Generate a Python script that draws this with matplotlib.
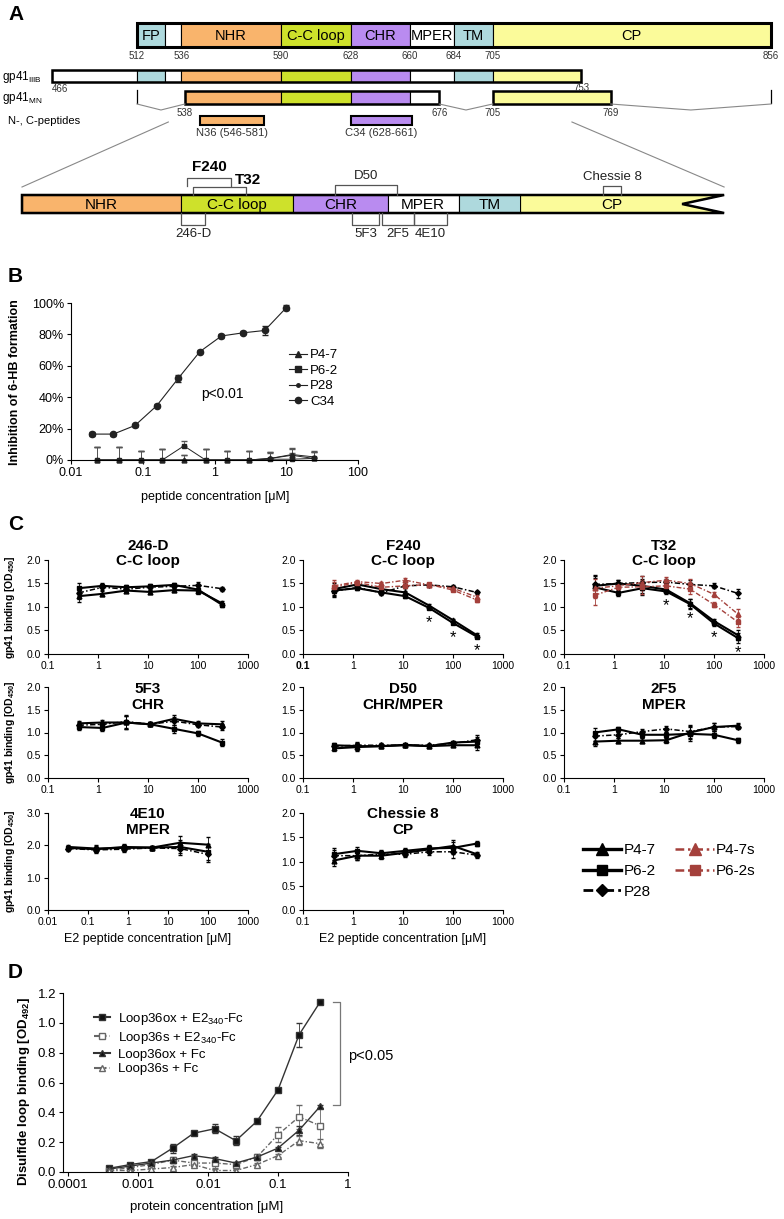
import matplotlib
matplotlib.use("Agg")
import matplotlib.pyplot as plt
import matplotlib.ticker as ticker
from matplotlib import font_manager
from matplotlib.patches import Rectangle, Polygon
from matplotlib.lines import Line2D
from matplotlib.transforms import blended_transform_factory
import numpy as np

# ── Panel A: gp41 domain map (residue numbers) ───────────────────────────────
DOMAIN_NAMES  = ["FP", "", "NHR", "C-C loop", "CHR", "MPER", "TM", "CP"]
DOMAIN_START  = [512, 527, 536, 590, 628, 660, 684, 705]
DOMAIN_END    = [527, 536, 590, 628, 660, 684, 705, 856]
DOMAIN_COLORS = ["#aed9dd", "white", "#f9b46c", "#cee12b", "#b98bf0",
                 "white", "#aed9dd", "#fbfb9a"]
BOUNDARY_TICKS = [512, 536, 590, 628, 660, 684, 705, 856]
IIIB_RANGE = (466, 753)
MN_RANGES  = [(538, 676), (705, 769)]
PEPTIDE_NAMES  = ["N36 (546-581)", "C34 (628-661)"]
PEPTIDE_RANGES = [(546, 581), (628, 661)]
ZOOM_RANGE  = (536, 774)
ZOOM_SOURCE = (529, 748)

EPI_ABOVE        = ["F240", "T32", "D50", "Chessie 8"]
EPI_ABOVE_RANGES = [(592, 607), (594, 612), (642, 663), (733, 739)]
EPI_BELOW        = ["246-D", "5F3", "2F5", "4E10"]
EPI_BELOW_RANGES = [(590, 598), (648, 657), (658, 669), (669, 680)]

# ── Panel B: 6-HB inhibition ────────────────────────────────────────────────
B_CONC_C34 = [0.0195, 0.039, 0.078, 0.156, 0.3125, 0.625, 1.25, 2.5, 5, 10]
B_C34      = [16.5, 16.5, 22, 34.5, 52, 69, 79, 81, 82.5, 97]
B_C34_ERR  = [1.5, 1, 1, 1, 2, 1, 1, 1, 3, 1.5]
B_CONC_PEP = [0.0234, 0.047, 0.094, 0.1875, 0.375, 0.75, 1.5, 3, 6, 12, 24]
B_P47      = [0, 0, 0, 0, 0, 0, 0, 0, 1, 3, 1]
B_P62      = [0, 0, 0, 0, 9, 0, 0, 0, 0.5, 0.5, 1]
B_P28      = [0, 0, 0, 0, 0, 0, 0, 0, 1, 3.5, 2]
B_PEP_ERR  = [8, 8, 6, 7, 3, 7, 6, 6, 4, 4, 4]

# ── Panel C: gp41 binding by mAbs ────────────────────────────────────────────
CONC_C      = [0.41, 1.23, 3.7, 11.1, 33.3, 100, 300]
CONC_C_4E10 = [0.032, 0.16, 0.8, 4, 20, 100]

C_246D = {"P4-7": [1.23, 1.28, 1.35, 1.32, 1.36, 1.35, 1.08],
          "P6-2": [1.40, 1.45, 1.42, 1.44, 1.47, 1.37, 1.05],
          "P28":  [1.30, 1.42, 1.38, 1.42, 1.44, 1.46, 1.39]}
C_246D_ERR = [0.12, 0.05, 0.04, 0.05, 0.04, 0.08, 0.04]

C_F240 = {"P4-7":  [1.38, 1.48, 1.38, 1.31, 1.03, 0.72, 0.40],
          "P6-2":  [1.35, 1.40, 1.31, 1.23, 0.98, 0.66, 0.37],
          "P28":   [1.33, 1.42, 1.30, 1.45, 1.47, 1.43, 1.31],
          "P4-7s": [1.45, 1.54, 1.50, 1.57, 1.47, 1.40, 1.21],
          "P6-2s": [1.42, 1.52, 1.42, 1.45, 1.48, 1.36, 1.15]}
C_F240_ERR = [0.12, 0.03, 0.04, 0.04, 0.03, 0.03, 0.04]
F240_STARS = [4, 5, 6]

C_T32 = {"P4-7":  [1.45, 1.50, 1.45, 1.37, 1.08, 0.70, 0.40],
         "P6-2":  [1.42, 1.30, 1.40, 1.33, 1.06, 0.65, 0.34],
         "P28":   [1.48, 1.50, 1.52, 1.53, 1.48, 1.45, 1.29],
         "P4-7s": [1.40, 1.45, 1.52, 1.57, 1.50, 1.27, 0.85],
         "P6-2s": [1.25, 1.42, 1.43, 1.45, 1.38, 1.05, 0.68]}
C_T32_ERR = [0.2, 0.07, 0.15, 0.06, 0.1, 0.05, 0.1]
T32_STARS = [3, 4, 5, 6]

C_5F3 = {"P4-7": [1.20, 1.22, 1.22, 1.18, 1.30, 1.20, 1.18],
         "P6-2": [1.12, 1.10, 1.22, 1.18, 1.08, 0.98, 0.78],
         "P28":  [1.16, 1.18, 1.24, 1.18, 1.25, 1.17, 1.12]}
C_5F3_ERR = [0.06, 0.06, 0.15, 0.04, 0.08, 0.05, 0.07]

C_D50 = {"P4-7": [0.65, 0.68, 0.70, 0.72, 0.70, 0.72, 0.72],
         "P6-2": [0.72, 0.70, 0.70, 0.73, 0.70, 0.78, 0.80],
         "P28":  [0.70, 0.72, 0.72, 0.72, 0.72, 0.76, 0.84]}
C_D50_ERR = [0.05, 0.08, 0.04, 0.03, 0.03, 0.04, 0.1]

C_2F5 = {"P4-7": [0.80, 0.82, 0.82, 0.83, 1.00, 1.12, 1.15],
         "P6-2": [1.00, 1.07, 0.95, 0.95, 0.97, 0.95, 0.83],
         "P28":  [0.92, 0.95, 1.02, 1.08, 1.02, 1.12, 1.13]}
C_2F5_ERR = [0.1, 0.06, 0.06, 0.06, 0.15, 0.08, 0.05]

C_4E10 = {"P4-7": [1.95, 1.90, 1.92, 1.93, 2.08, 2.02],
          "P6-2": [1.92, 1.88, 1.95, 1.93, 1.95, 1.80],
          "P28":  [1.90, 1.86, 1.88, 1.92, 1.90, 1.72]}
C_4E10_ERR = [0.06, 0.1, 0.1, 0.06, 0.2, 0.25]

C_CH8 = {"P4-7": [1.02, 1.12, 1.12, 1.18, 1.25, 1.32, 1.15],
         "P6-2": [1.15, 1.22, 1.17, 1.22, 1.27, 1.28, 1.37],
         "P28":  [1.12, 1.12, 1.15, 1.15, 1.20, 1.20, 1.13]}
C_CH8_ERR = [0.12, 0.08, 0.06, 0.06, 0.06, 0.12, 0.05]

C_TITLES = ["246-D\nC-C loop", "F240\nC-C loop", "T32\nC-C loop",
            "5F3\nCHR", "D50\nCHR/MPER", "2F5\nMPER",
            "4E10\nMPER", "Chessie 8\nCP"]

# ── Panel D: disulfide loop binding ─────────────────────────────────────────
D_CONC = [0.00039, 0.00078, 0.00156, 0.003125, 0.00625, 0.0125,
          0.025, 0.05, 0.1, 0.2, 0.4]
D_OX_E2     = [0.025, 0.05, 0.07, 0.16, 0.26, 0.29, 0.21, 0.34, 0.55, 0.92, 1.14]
D_OX_E2_ERR = [0.01, 0.01, 0.01, 0.03, 0.01, 0.03, 0.03, 0.01, 0.01, 0.08, 0.01]
D_S_E2      = [0.01, 0.03, 0.05, 0.08, 0.06, 0.06, 0.05, 0.10, 0.25, 0.37, 0.31]
D_S_E2_ERR  = [0.01, 0.01, 0.01, 0.02, 0.01, 0.03, 0.02, 0.02, 0.05, 0.08, 0.12]
D_OX_FC     = [0.02, 0.04, 0.06, 0.08, 0.11, 0.09, 0.06, 0.10, 0.16, 0.28, 0.44]
D_OX_FC_ERR = [0.01, 0.01, 0.01, 0.01, 0.01, 0.01, 0.01, 0.01, 0.01, 0.03, 0.01]
D_S_FC      = [0.01, 0.01, 0.02, 0.03, 0.05, 0.01, 0.01, 0.05, 0.11, 0.21, 0.19]
D_S_FC_ERR  = [0.01, 0.01, 0.01, 0.01, 0.01, 0.01, 0.01, 0.01, 0.01, 0.03, 0.03]
D_LABELS = ["Loop36ox + E2$_{\\mathregular{340}}$-Fc",
            "Loop36s + E2$_{\\mathregular{340}}$-Fc",
            "Loop36ox + Fc", "Loop36s + Fc"]

# ── Figure setup ────────────────────────────────────────────────────────────
W, H = 784, 1219
plt.rcParams.update({
    "font.family": "Liberation Sans",
    "mathtext.fontset": "custom",
    "mathtext.rm": "Liberation Sans",
    "mathtext.bf": "Liberation Sans:bold",
    "mathtext.default": "regular",
    "axes.linewidth": 0.8,
})

# condensed face for the small labels, if the narrow Liberation cut is installed
try:
    font_manager.findfont("Liberation Sans Narrow", fallback_to_default=False)
    NARROW = "Liberation Sans Narrow"
except ValueError:
    NARROW = "Liberation Sans"

fig = plt.figure(figsize=(W / 100, H / 100), dpi=100)


def px_axes(l, t, r, b):
    return fig.add_axes([l / W, 1 - b / H, (r - l) / W, (b - t) / H])


def fpos(x, y):
    return (x / W, 1 - y / H)


def ftext(x, y, s, **kw):
    fig.text(x / W, 1 - y / H, s, **kw)


def style_axis(ax, fs, family="Liberation Sans"):
    for side in ("top", "right"):
        ax.spines[side].set_visible(False)
    ax.tick_params(which="major", direction="out", length=3, width=0.8,
                   labelsize=fs, pad=2, labelfontfamily=family)


def log_x(ax, lo, hi, ticks):
    ax.set_xscale("log")
    ax.set_xlim(lo, hi)
    ax.set_xticks(ticks)
    ax.xaxis.set_minor_locator(ticker.NullLocator())
    ax.xaxis.set_major_formatter(ticker.FuncFormatter(lambda v, p: f"{v:g}"))


def unclip(container):
    for art in container.get_children():
        art.set_clip_on(False)


# ── A ───────────────────────────────────────────────────────────────────────
axA = px_axes(0, 0, W, 265)
axA.set_xlim(0, W)
axA.set_ylim(265, 0)
axA.axis("off")


def top_x(r):
    return 137 + (r - 512) * (771 - 137) / (856 - 512)


def zoom_x(r):
    return 22 + (r - ZOOM_RANGE[0]) * 2.95


def draw_construct(lo, hi, y0, y1, lw=1.8):
    if lo < DOMAIN_START[0]:
        axA.add_patch(Rectangle((top_x(lo), y0), top_x(DOMAIN_START[0]) - top_x(lo),
                                y1 - y0, fc="white", ec="black", lw=0.8))
    for s, e, c in zip(DOMAIN_START, DOMAIN_END, DOMAIN_COLORS):
        a, b = max(s, lo), min(e, hi)
        if a < b:
            axA.add_patch(Rectangle((top_x(a), y0), top_x(b) - top_x(a), y1 - y0,
                                    fc=c, ec="black", lw=0.8))
    axA.add_patch(Rectangle((top_x(lo), y0), top_x(hi) - top_x(lo), y1 - y0,
                            fc="none", ec="black", lw=lw))


# full-length gp41
draw_construct(DOMAIN_START[0], DOMAIN_END[-1], 23, 47, lw=2.2)
for name, s, e in zip(DOMAIN_NAMES, DOMAIN_START, DOMAIN_END):
    if name:
        axA.text((top_x(s) + top_x(e)) / 2, 36, name, ha="center", va="center",
                 fontsize=10.5, family=NARROW)
for r in BOUNDARY_TICKS:
    axA.text(top_x(r), 56, str(r), ha="center", va="center", fontsize=7,
             color="#333333", family=NARROW)

# gp41 IIIB
draw_construct(IIIB_RANGE[0], IIIB_RANGE[1], 70, 82)
axA.text(2, 77, "gp41$_{\\mathregular{IIIB}}$", ha="left", va="center", fontsize=8.5,
         family=NARROW)
axA.text(top_x(IIIB_RANGE[0]) + 8, 89, str(IIIB_RANGE[0]), ha="center", va="center",
         fontsize=7, color="#333333", family=NARROW)
axA.text(top_x(IIIB_RANGE[1]), 88, str(IIIB_RANGE[1]), ha="center", va="center",
         fontsize=7, color="#333333", family=NARROW)

# gp41 MN
axA.text(2, 98, "gp41$_{\\mathregular{MN}}$", ha="left", va="center", fontsize=8.5,
         family=NARROW)
for lo, hi in MN_RANGES:
    draw_construct(lo, hi, 91, 104)
    for r in (lo, hi):
        axA.text(top_x(r), 113, str(r), ha="center", va="center", fontsize=7,
                 color="#333333", family=NARROW)
for r in (DOMAIN_START[0], DOMAIN_END[-1]):
    axA.plot([top_x(r), top_x(r)], [90, 103], color="black", lw=0.9)
gaps = [(DOMAIN_START[0], MN_RANGES[0][0]), (MN_RANGES[0][1], MN_RANGES[1][0]),
        (MN_RANGES[1][1], DOMAIN_END[-1])]
for a, b in gaps:
    axA.plot([top_x(a), (top_x(a) + top_x(b)) / 2, top_x(b)], [104, 110, 104],
             color="#888888", lw=0.8)

# N-, C-peptides
axA.text(8, 121, "N-, C-peptides", ha="left", va="center", fontsize=8, family=NARROW)
for name, (lo, hi) in zip(PEPTIDE_NAMES, PEPTIDE_RANGES):
    col = [c for s, e, c in zip(DOMAIN_START, DOMAIN_END, DOMAIN_COLORS) if s <= lo < e][0]
    axA.add_patch(Rectangle((top_x(lo), 116), top_x(hi) - top_x(lo), 9,
                            fc=col, ec="black", lw=1.5))
    axA.text((top_x(lo) + top_x(hi)) / 2, 133, name, ha="center", va="center",
             fontsize=8, color="#333333", family=NARROW)

# zoom lines
axA.plot([top_x(ZOOM_SOURCE[0]), zoom_x(ZOOM_RANGE[0])], [122, 187],
         color="#888888", lw=0.8)
axA.plot([top_x(ZOOM_SOURCE[1]), zoom_x(ZOOM_RANGE[1])], [122, 187],
         color="#888888", lw=0.8)

# enlarged bar
zy0, zy1 = 195, 213
zym = (zy0 + zy1) / 2
NOTCH = 42
for name, s, e, c in zip(DOMAIN_NAMES, DOMAIN_START, DOMAIN_END, DOMAIN_COLORS):
    a, b = max(s, ZOOM_RANGE[0]), min(e, ZOOM_RANGE[1])
    if a >= b:
        continue
    xa, xb = zoom_x(a), zoom_x(b)
    if e > ZOOM_RANGE[1]:
        axA.add_patch(Polygon([(xa, zy0), (xb, zy0), (xb - NOTCH, zym), (xb, zy1),
                               (xa, zy1)], closed=True, fc=c, ec="black", lw=0.8))
        cx = (xa + xb - NOTCH / 2) / 2
    else:
        axA.add_patch(Rectangle((xa, zy0), xb - xa, zy1 - zy0, fc=c, ec="black", lw=0.8))
        cx = (xa + xb) / 2
    axA.text(cx, zym + 1, name, ha="center", va="center", fontsize=11, family=NARROW)
xl, xr = zoom_x(ZOOM_RANGE[0]), zoom_x(ZOOM_RANGE[1])
axA.add_patch(Polygon([(xl, zy0), (xr, zy0), (xr - NOTCH, zym), (xr, zy1), (xl, zy1)],
                      closed=True, fc="none", ec="black", lw=1.8))

# epitope brackets
above_level = [178, 187, 185, 186]
above_base  = [186, 195, 195, 195]
for i, (name, (a, b)) in enumerate(zip(EPI_ABOVE, EPI_ABOVE_RANGES)):
    x0, x1 = zoom_x(a), zoom_x(b)
    axA.plot([x0, x0, x1, x1], [above_base[i], above_level[i], above_level[i],
                                above_base[i]], color="#555555", lw=0.9)
    if name == "F240":
        axA.text((x0 + x1) / 2, 167, name, ha="center", va="center",
                 fontsize=11, fontweight="bold", family=NARROW)
    elif name == "T32":
        axA.text(x1 + 2, 180, name, ha="center", va="center",
                 fontsize=11, fontweight="bold", family=NARROW)
    else:
        axA.text((x0 + x1) / 2, above_level[i] - 9, name, ha="center",
                 va="center", fontsize=9.5, color="#222222", family=NARROW)
for name, (a, b) in zip(EPI_BELOW, EPI_BELOW_RANGES):
    x0, x1 = zoom_x(a), zoom_x(b)
    axA.plot([x0, x0, x1, x1], [zy1, 225, 225, zy1], color="#555555", lw=0.9)
    axA.text((x0 + x1) / 2, 234, name, ha="center", va="center", fontsize=9.5,
             color="#222222", family=NARROW)

# ── B ───────────────────────────────────────────────────────────────────────
axB = px_axes(71, 303, 358, 460)
style_axis(axB, 9)
log_x(axB, 0.01, 100, [0.01, 0.1, 1, 10, 100])
axB.set_ylim(0, 100)
axB.set_yticks([0, 20, 40, 60, 80, 100])
axB.yaxis.set_major_formatter(ticker.PercentFormatter(decimals=0))

b_styles = [("P4-7", B_P47, "^", 3.5), ("P6-2", B_P62, "s", 3.5), ("P28", B_P28, "o", 2)]
b_handles = []
for name, vals, m, ms in b_styles:
    cont = axB.errorbar(B_CONC_PEP, vals, yerr=[np.zeros(len(vals)), B_PEP_ERR],
                        color="#222222", lw=0.7, marker=m, ms=ms, ecolor="#555555",
                        elinewidth=0.6, capsize=2)
    unclip(cont)
    b_handles.append(Line2D([], [], color="#222222", lw=0.8, marker=m, ms=ms + 0.5))
cont = axB.errorbar(B_CONC_C34, B_C34, yerr=B_C34_ERR, color="#222222", lw=0.8,
                    marker="o", ms=4.5, elinewidth=0.6, capsize=2)
unclip(cont)
b_handles.append(Line2D([], [], color="#222222", lw=0.8, marker="o", ms=4.5))
axB.text(0.66, 42, "p<0.01", ha="left", va="center", fontsize=10)
fig.legend(b_handles, ["P4-7", "P6-2", "P28", "C34"], loc="upper left",
           bbox_to_anchor=fpos(289, 349), frameon=False, fontsize=9.5,
           handlelength=1.4, handletextpad=0.2, labelspacing=0.25,
           borderpad=0, borderaxespad=0)
ftext(15, 382, "Inhibition of 6-HB formation", rotation=90, ha="center",
      va="center", fontsize=9, fontweight="bold")
ftext(215, 497, "peptide concentration [μM]", ha="center", va="center", fontsize=9)

# ── C ───────────────────────────────────────────────────────────────────────
C_LEFT  = [48, 303, 564]
C_ROWS  = [(560, 654), (687, 778), (813, 910)]
C_TITLE_Y = [1.07, 0.89, 0.91]
BROWN = "#a4403b"
DASHDOT = (0, (3.5, 1.5, 1, 1.5))
C_STYLE = {
    "P4-7":  dict(color="black", ls="-", lw=1.5, marker="^", ms=3.5),
    "P6-2":  dict(color="black", ls="-", lw=1.5, marker="s", ms=3.2),
    "P28":   dict(color="black", ls=DASHDOT, lw=1.1, marker="D", ms=2.8),
    "P4-7s": dict(color=BROWN, ls=DASHDOT, lw=1.0, marker="^", ms=3.5),
    "P6-2s": dict(color=BROWN, ls=DASHDOT, lw=1.0, marker="s", ms=3.2),
}
c_panels = [(C_246D, C_246D_ERR, CONC_C, None), (C_F240, C_F240_ERR, CONC_C, F240_STARS),
            (C_T32, C_T32_ERR, CONC_C, T32_STARS), (C_5F3, C_5F3_ERR, CONC_C, None),
            (C_D50, C_D50_ERR, CONC_C, None), (C_2F5, C_2F5_ERR, CONC_C, None),
            (C_4E10, C_4E10_ERR, CONC_C_4E10, None), (C_CH8, C_CH8_ERR, CONC_C, None)]

for i, (series, err, conc, stars) in enumerate(c_panels):
    row, col = divmod(i, 3)
    top, bot = C_ROWS[row]
    ax = px_axes(C_LEFT[col], top, C_LEFT[col] + 200, bot)
    style_axis(ax, 7.5, NARROW)
    wide = conc is CONC_C_4E10
    if wide:
        log_x(ax, 0.01, 1000, [0.01, 0.1, 1, 10, 100, 1000])
    else:
        log_x(ax, 0.1, 1000, [0.1, 1, 10, 100, 1000])
    ymax = 3.0 if wide else 2.0
    ax.set_ylim(0, ymax)
    ax.set_yticks(np.arange(0, ymax + 0.01, 1.0 if wide else 0.5))
    ax.yaxis.set_major_formatter(ticker.FormatStrFormatter("%.1f"))
    for name, vals in series.items():
        st = C_STYLE[name]
        ax.errorbar(conc, vals, yerr=err, color=st["color"], ls=st["ls"], lw=st["lw"],
                    marker=st["marker"], ms=st["ms"], ecolor=st["color"],
                    elinewidth=0.6, capsize=1.5)
    if stars:
        low = np.minimum(series["P4-7"], series["P6-2"])
        for k in stars:
            ax.annotate("*", (conc[k], low[k]), xytext=(0, -5), textcoords="offset points",
                        ha="center", va="top", fontsize=12)
    ax.text(0.5, C_TITLE_Y[row], C_TITLES[i], transform=ax.transAxes, ha="center",
            va="center", fontsize=11, fontweight="bold", linespacing=1.15,
            family=NARROW)
    if i == 1:
        fig.canvas.draw()
        ax.get_xticklabels()[0].set_fontweight("bold")

for top, bot in C_ROWS:
    ftext(10, (top + bot) / 2, "gp41 binding [OD$_{\\mathbf{450}}$]", rotation=90,
          ha="center", va="center", fontsize=7.5, fontweight="bold")
for col in range(2):
    ftext(C_LEFT[col] + 100, 939, "E2 peptide concentration [μM]", ha="center",
          va="center", fontsize=9)

c_handles = [Line2D([], [], color="black", lw=2.4, marker="^", ms=8),
             Line2D([], [], color="black", lw=2.4, marker="s", ms=7.5),
             Line2D([], [], color="black", lw=2.0, ls=DASHDOT, marker="D", ms=6),
             Line2D([], [], color=BROWN, lw=1.8, ls=DASHDOT, marker="^", ms=8),
             Line2D([], [], color=BROWN, lw=1.8, ls=DASHDOT, marker="s", ms=7.5)]
fig.legend(c_handles, ["P4-7", "P6-2", "P28", "P4-7s", "P6-2s"], ncol=2,
           loc="upper left", bbox_to_anchor=fpos(583, 843), frameon=False,
           prop={"family": NARROW, "size": 11}, handlelength=2.5,
           handletextpad=0.15, columnspacing=1.3, labelspacing=0.45,
           borderpad=0, borderaxespad=0)

# ── D ───────────────────────────────────────────────────────────────────────
axD = px_axes(63, 993, 348, 1172)
style_axis(axD, 9.5)
log_x(axD, 8.5e-5, 1, [1e-4, 1e-3, 1e-2, 1e-1, 1])
axD.set_ylim(0, 1.2)
axD.set_yticks(np.arange(0, 1.21, 0.2))
axD.yaxis.set_major_formatter(ticker.FormatStrFormatter("%.1f"))

d_series = [(D_OX_E2, D_OX_E2_ERR, "s", "-", "#333333", "#111111"),
            (D_S_E2, D_S_E2_ERR, "s", DASHDOT, "#666666", "white"),
            (D_OX_FC, D_OX_FC_ERR, "^", "-", "#333333", "#111111"),
            (D_S_FC, D_S_FC_ERR, "^", DASHDOT, "#666666", "white")]
d_handles = []
for vals, err, m, ls, c, fc in d_series:
    axD.errorbar(D_CONC, vals, yerr=err, color=c, ls=ls, lw=1.0, marker=m, ms=4,
                 mfc=fc, mec=c, ecolor=c, elinewidth=0.6, capsize=2)
    d_handles.append(Line2D([], [], color=c, ls=ls, lw=1.5, marker=m, ms=5,
                            mfc=fc, mec=c))
fig.legend(d_handles, D_LABELS, loc="upper left", bbox_to_anchor=fpos(94, 1011),
           frameon=False, fontsize=9.5, handlelength=1.2, handletextpad=0.6,
           labelspacing=0.2, borderpad=0, borderaxespad=0)
tr = blended_transform_factory(axD.transAxes, axD.transData)
axD.plot([0.947, 0.972, 0.972, 0.947],
         [D_OX_E2[-1], D_OX_E2[-1], D_OX_FC[-1] + 0.01, D_OX_FC[-1] + 0.01],
         transform=tr, color="#777777", lw=0.9, clip_on=False)
axD.text(1.0, 0.78, "p<0.05", transform=tr, ha="left", va="center", fontsize=10.5)
ftext(24, 1092, "Disulfide loop binding [OD$_{\\mathbf{492}}$]", rotation=90,
      ha="center", va="center", fontsize=9.5, fontweight="bold")
ftext(207, 1207, "protein concentration [μM]", ha="center", va="center", fontsize=9.5)

# ── panel letters ───────────────────────────────────────────────────────────
for letter, y in zip("ABCD", [15, 277, 525, 973]):
    ftext(8, y, letter, ha="left", va="center", fontsize=15, fontweight="bold")

fig.savefig("out.png", dpi=100, facecolor="white")
